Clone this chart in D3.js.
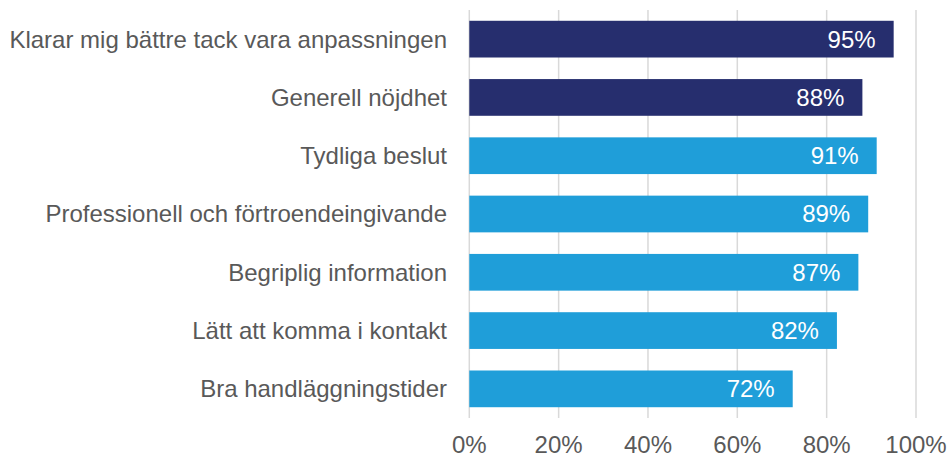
<!DOCTYPE html>
<html>
<head>
<meta charset="utf-8">
<script src="https://cdn.jsdelivr.net/npm/d3@7"></script>
<style>
  body { margin: 0; background: #fff; }
  text { font-family: "Liberation Sans", Arial, sans-serif; }
</style>
</head>
<body>
<div id="chart"></div>
<script>
  var categories = [
    "Klarar mig bättre tack vara anpassningen",
    "Generell nöjdhet",
    "Tydliga beslut",
    "Professionell och förtroendeingivande",
    "Begriplig information",
    "Lätt att komma i kontakt",
    "Bra handläggningstider"
  ];
  var values = [0.95, 0.88, 0.912, 0.893, 0.871, 0.823, 0.724];
  var groups = ["dark", "dark", "light", "light", "light", "light", "light"];
  var xTicks = [0, 0.2, 0.4, 0.6, 0.8, 1];

  var width = 949, height = 457;
  var colors = { dark: "#262e6e", light: "#1f9ed9" };
  var pct = d3.format(".0%");

  var svg = d3.select("#chart").append("svg")
    .attr("width", width)
    .attr("height", height);

  var x = d3.scaleLinear().domain([0, 1]).range([469.3, 916]);
  var y = d3.scaleBand().domain(categories).range([10, 418])
    .paddingInner(0.37).paddingOuter(0.185);

  // gridlines
  svg.append("g").selectAll("line")
    .data(xTicks)
    .enter().append("line")
    .attr("x1", function(d) { return x(d); })
    .attr("x2", function(d) { return x(d); })
    .attr("y1", 10).attr("y2", 418)
    .style("stroke", "#d9d9d9")
    .style("stroke-width", 1.5);

  // bars
  svg.append("g").selectAll("rect")
    .data(values)
    .enter().append("rect")
    .attr("x", x(0))
    .attr("y", function(d, i) { return y(categories[i]); })
    .attr("width", function(d) { return x(d) - x(0); })
    .attr("height", y.bandwidth())
    .attr("fill", function(d, i) { return colors[groups[i]]; });

  // value labels
  svg.append("g").selectAll("text")
    .data(values)
    .enter().append("text")
    .attr("x", function(d) { return x(d) - 18; })
    .attr("y", function(d, i) { return y(categories[i]) + y.bandwidth() / 2; })
    .attr("dy", "0.35em")
    .attr("text-anchor", "end")
    .style("fill", "#fff")
    .style("font-size", "24px")
    .text(function(d) { return pct(d); });

  // category labels
  svg.append("g").selectAll("text")
    .data(categories)
    .enter().append("text")
    .attr("x", 447)
    .attr("y", function(d) { return y(d) + y.bandwidth() / 2; })
    .attr("dy", "0.35em")
    .attr("text-anchor", "end")
    .style("fill", "#595959")
    .style("font-size", "24px")
    .text(function(d) { return d; });

  // x axis labels
  svg.append("g").selectAll("text")
    .data(xTicks)
    .enter().append("text")
    .attr("x", function(d) { return x(d); })
    .attr("y", 445)
    .attr("dy", "0.35em")
    .attr("text-anchor", "middle")
    .style("fill", "#595959")
    .style("font-size", "24px")
    .text(function(d) { return pct(d); });
</script>
</body>
</html>
